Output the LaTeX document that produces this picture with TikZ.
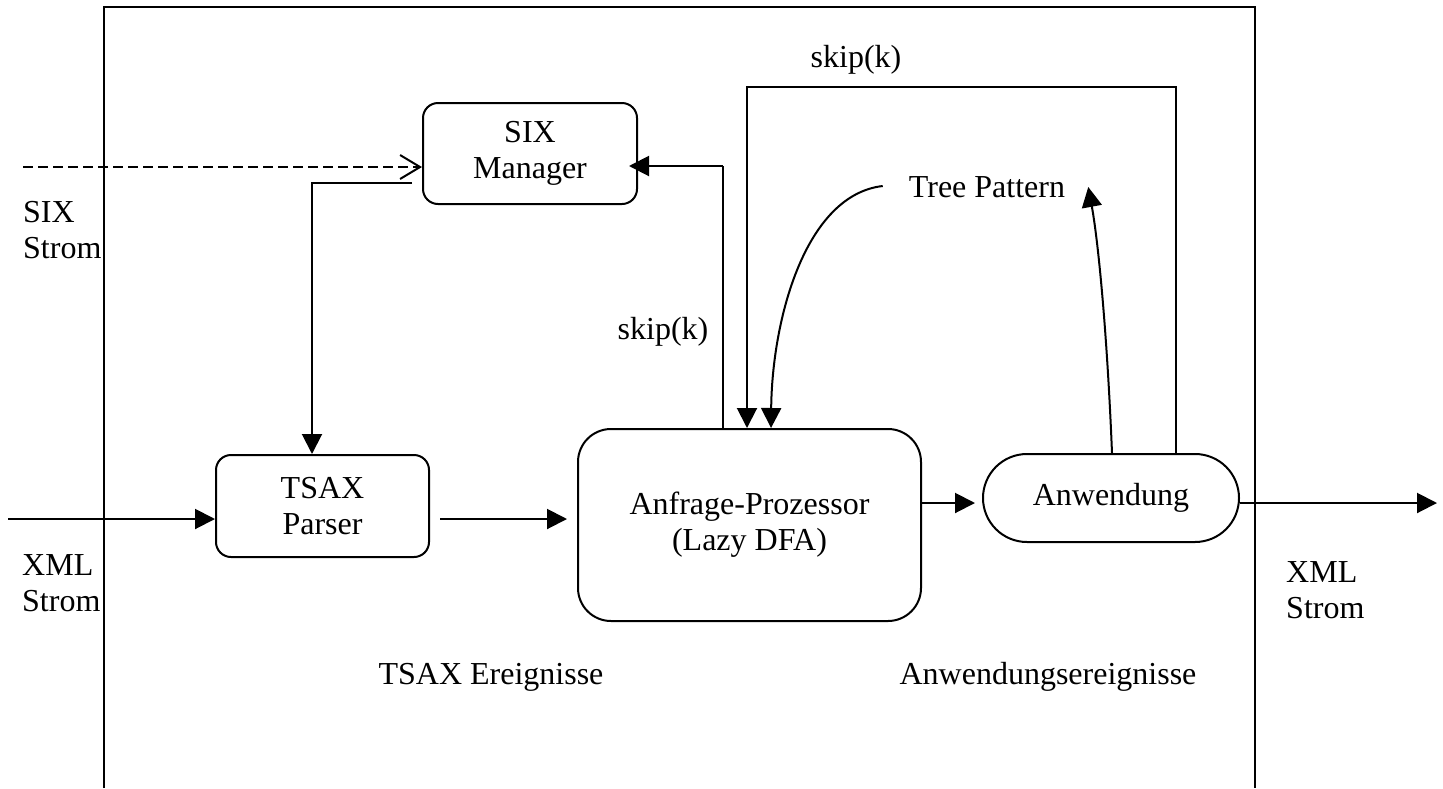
\documentclass[tikz,border=0pt]{standalone}
\usepackage{fontspec}
\setmainfont{Liberation Serif}
\usetikzlibrary{arrows.meta}
\tikzset{
  every node/.style={font=\fontsize{32}{36}\selectfont, inner sep=0pt},
  ln/.style={line width=2pt},
  thin ln/.style={line width=1.4pt},
  tri/.style={-{Triangle[length=20pt,width=20pt]}},
  barb/.style={-{Straight Barb[length=20pt,width=24pt]}},
  box/.style={draw, line width=2pt, rounded corners=15pt, align=center},
  lbl/.style={align=left, anchor=west},
}
\begin{document}
\begin{tikzpicture}[x=1pt,y=-1pt]
\useasboundingbox (0,0) rectangle (1443,788);
% outer frame
\draw[ln] (104,788) -- (104,7) -- (1255,7) -- (1255,788);

% nodes
\node[box, minimum width=214pt, minimum height=101pt] (six) at (530,153.5) {SIX\\Manager};
\node[box, minimum width=213pt, minimum height=102pt] (tsax) at (322.5,506) {TSAX\\Parser};
\node[box, rounded corners=33pt, minimum width=343pt, minimum height=192pt] (anf) at (749.5,525) {Anfrage-Prozessor\\(Lazy DFA)};
\node[box, rounded corners=44pt, minimum width=256pt, minimum height=88pt] (anw) at (1111,498) {Anwendung};
\node (tp) at (987,187) {Tree Pattern};

% labels
\node[lbl] (sixstrom) at (23,230) {SIX\\Strom};
\node[lbl] (xmlinlbl) at (22,583) {XML\\Strom};
\node[lbl] (xmloutlbl) at (1286,590) {XML\\Strom};
\node (tsaxev) at (491,677) {TSAX Ereignisse};
\node (anwev) at (1048,677) {Anwendungsereignisse};
\node (skiptop) at (856,60) {skip(k)};
\node (skipmid) at (663,332) {skip(k)};

% helper coordinates
\coordinate (sixin) at (23,167);
\coordinate (sixout) at (412,183);
\coordinate (xmlin) at (8,519);
\coordinate (y519) at (0,519);
\coordinate (y503) at (0,503);
\coordinate (y87) at (0,87);
\coordinate (y166) at (0,166);
\coordinate (xmlout) at (1437,503);
\coordinate (loopA) at ([xshift=65pt]anw.north);
\coordinate (loopB) at ([xshift=-2.5pt]anf.north);
\coordinate (skipB) at ([xshift=-26.5pt]anf.north);

% SIX stream (dashed)
\draw[ln, dash pattern=on 10pt off 5pt, barb] (sixin) -- (six.west |- sixin);
% SIX Manager -> TSAX Parser
\draw[ln, tri] (sixout) -| ([xshift=-10.5pt]tsax.north);
% XML in
\draw[ln, tri] (xmlin) -- (tsax.west |- xmlin);
% TSAX -> Anfrage
\draw[ln, tri, shorten <=10pt, shorten >=10pt] (tsax.east |- y519) -- (anf.west |- y519);
% Anfrage -> Anwendung
\draw[ln, tri, shorten >=7pt] (anf.east |- y503) -- (anw.west |- y503);
% Anwendung -> out
\draw[ln, tri] (anw.east |- y503) -- (xmlout);
% skip(k) loop over the top
\draw[ln, tri] (loopA) -- (loopA |- y87) -- (loopB |- y87) -- (loopB);
% skip(k) to SIX Manager
\draw[thin ln] (skipB) -- (skipB |- y166);
\draw[ln, tri, shorten >=-9pt] (skipB |- y166) -- (six.east |- y166);
% Tree Pattern -> Anfrage
\draw[ln, tri] ([xshift=-26pt,yshift=1pt]tp.west) .. controls (805,195) and (772,320) .. ([xshift=21.5pt]anf.north);
% Anwendung -> Tree Pattern
\draw[ln, tri] ([xshift=1pt]anw.north) .. controls (1107,330) and (1098,240) .. ([xshift=23pt]tp.east);
\end{tikzpicture}
\end{document}
